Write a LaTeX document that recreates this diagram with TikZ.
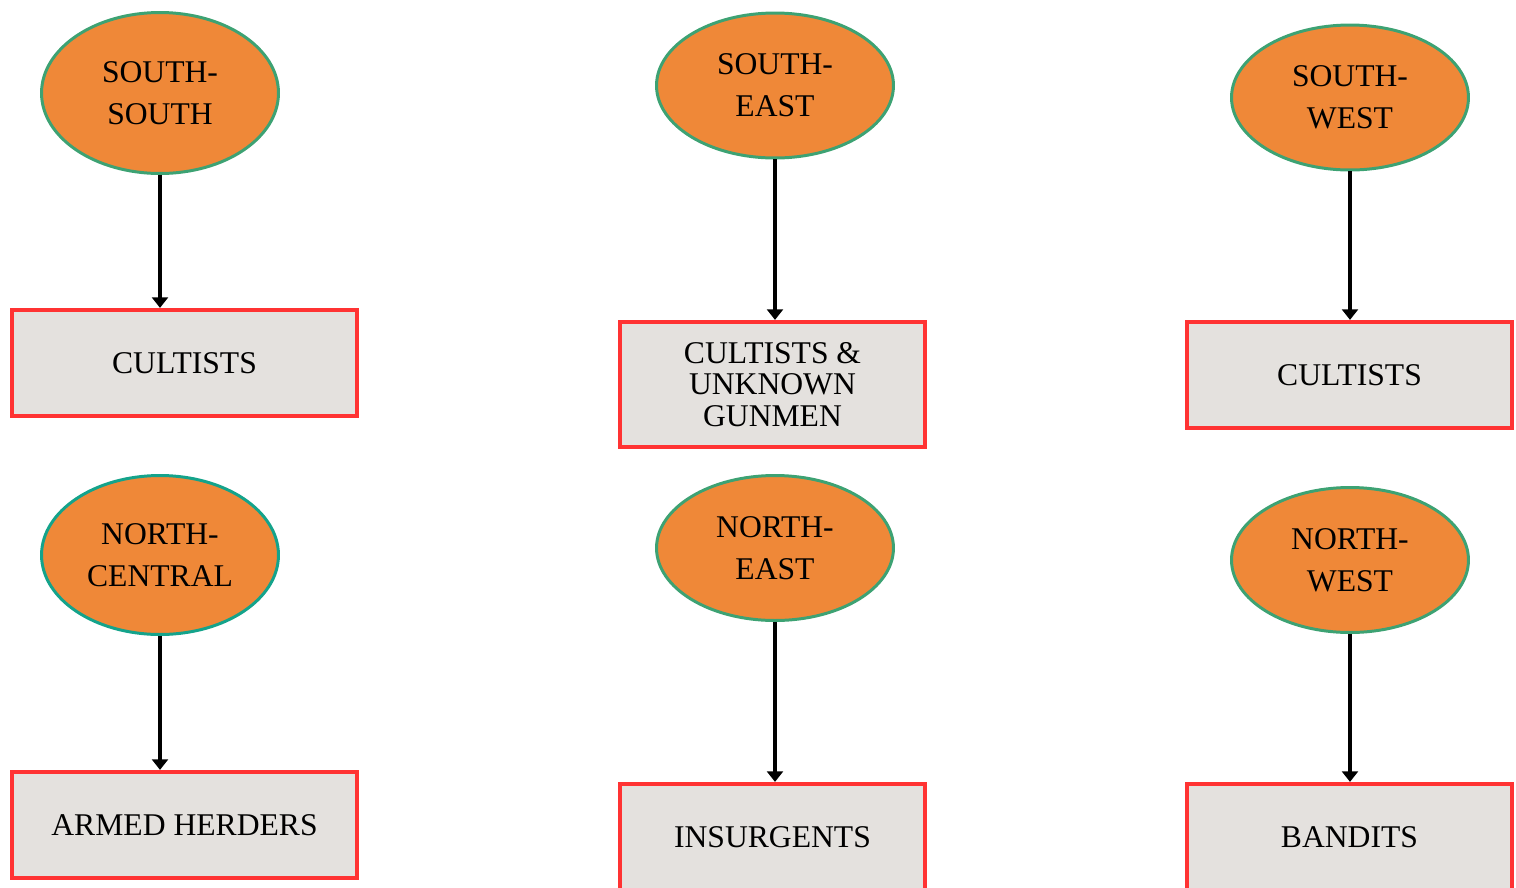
\documentclass[tikz,border=0pt]{standalone}
\usepackage{fontspec}
\setmainfont{Liberation Serif}
\usetikzlibrary{arrows.meta,shapes.geometric}
\definecolor{zoneorange}{RGB}{239,136,56}
\definecolor{zonegreen}{RGB}{61,162,115}
\definecolor{zoneteal}{RGB}{20,163,139}
\definecolor{groupgrey}{RGB}{228,225,222}
\definecolor{groupred}{RGB}{255,51,51}
\tikzset{
  zone/.style={ellipse, draw=zonegreen, line width=1.7pt, fill=zoneorange, minimum width=4.74cm, minimum height=2.9cm, inner sep=0pt, align=center, font=\fontsize{18}{24}\selectfont},
  group/.style={rectangle, draw=groupred, line width=2.4pt, fill=groupgrey, minimum height=2.12cm, inner sep=0pt, align=center, font=\fontsize{18}{18}\selectfont},
  link/.style={line width=2pt, -{Triangle[length=6pt,width=9pt]}}
}

\begin{document}
\begin{tikzpicture}[x=0.02cm, y=-0.02cm]
			%%%%% START %%%%%
			\useasboundingbox (0, 0) rectangle (1516, 887);
			\clip (0, 0) rectangle (1516, 887);
			
			\node[zone, minimum height=3.22cm] (ss) at (160, 93) {SOUTH-\\SOUTH};
			\node[zone] (se) at (775, 85.5) {SOUTH-\\EAST};
			\node[zone] (sw) at (1350, 97.5) {SOUTH-\\WEST};
			
			\node[group, minimum width=6.9cm] (ssgroup) at (184.5, 363) {CULTISTS};
			\node[group, minimum width=6.1cm, minimum height=2.5cm] (segroup) at (772.5, 384.5) {CULTISTS \&\\UNKNOWN\\GUNMEN};
			\node[group, minimum width=6.5cm] (swgroup) at (1349.5, 375) {CULTISTS};
			
			\node[zone, draw=zoneteal, minimum height=3.18cm] (nc) at (160, 555) {NORTH-\\CENTRAL};
			\node[zone] (ne) at (775, 548) {NORTH-\\EAST};
			\node[zone] (nw) at (1350, 560) {NORTH-\\WEST};
			
			\node[group, minimum width=6.9cm] (ncgroup) at (184.5, 825) {ARMED HERDERS};
			\node[group, minimum width=6.1cm] (negroup) at (772.5, 837) {INSURGENTS};
			\node[group, minimum width=6.5cm] (nwgroup) at (1349.5, 837) {BANDITS};
			
			\draw[link] (ss.south) -- (ss.south |- ssgroup.north);
			\draw[link] (se.south) -- (se.south |- segroup.north);
			\draw[link] (sw.south) -- (sw.south |- swgroup.north);
			\draw[link] (nc.south) -- (nc.south |- ncgroup.north);
			\draw[link] (ne.south) -- (ne.south |- negroup.north);
			\draw[link] (nw.south) -- (nw.south |- nwgroup.north);
			
			%%%%% END %%%%%
\end{tikzpicture}
\end{document}
